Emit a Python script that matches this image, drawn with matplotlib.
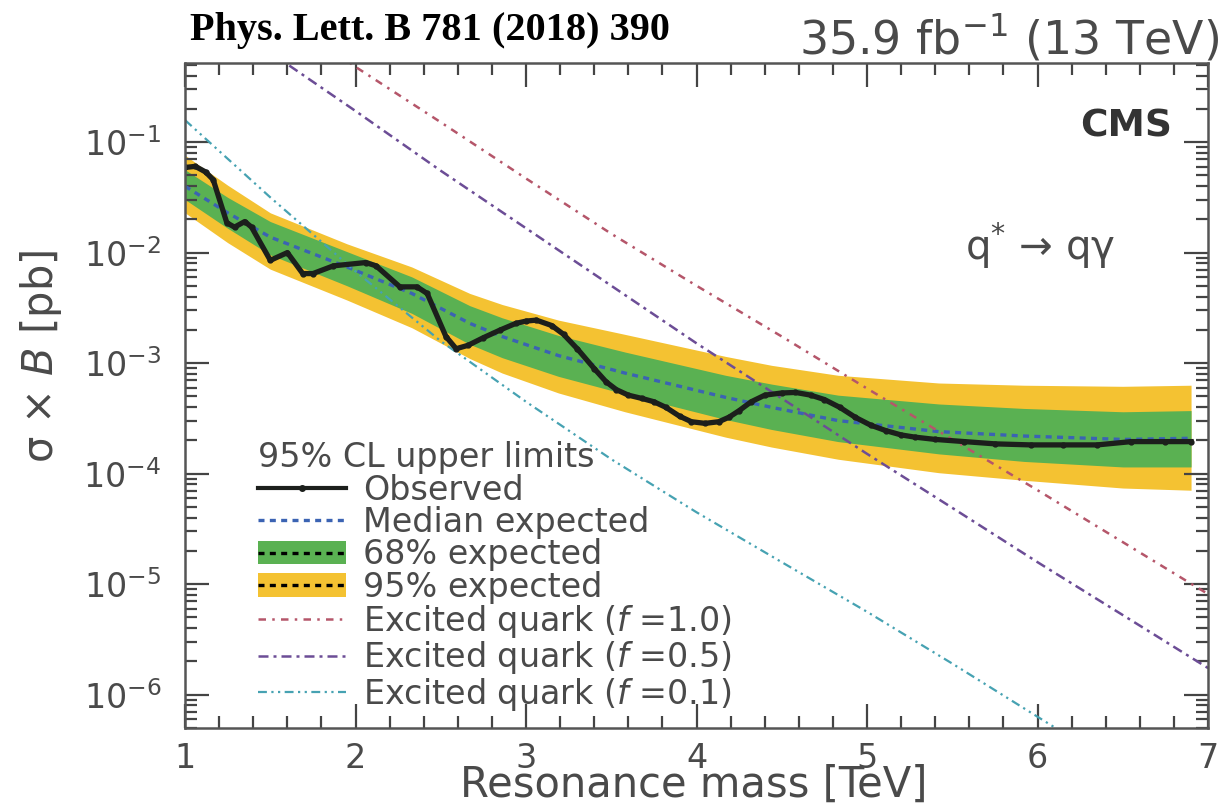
import matplotlib
matplotlib.use("Agg")
import matplotlib.pyplot as plt
from matplotlib.lines import Line2D
from matplotlib.patches import Patch
from matplotlib.ticker import FixedLocator, LogFormatterSciNotation, MultipleLocator

plt.rcParams['font.family'] = ['DejaVu Sans']
plt.rcParams['mathtext.fontset'] = 'dejavusans'

# expected limits [pb]
mass_exp = [1.0, 1.25, 1.5, 1.95, 2.33, 2.67, 2.86, 3.19, 3.58, 4.17, 4.44, 4.83, 5.42, 5.92, 6.5, 6.9]
exp_median = [0.0398, 0.0229, 0.0138, 0.00741, 0.00427, 0.00229, 0.00174, 0.00117,
              8.13e-4, 4.90e-4, 3.98e-4, 3.02e-4, 2.40e-4, 2.19e-4, 2.04e-4, 2.09e-4]
exp_68_hi = [0.0562, 0.0316, 0.0191, 0.0102, 0.00603, 0.00331, 0.00257, 0.00178,
             0.00126, 7.76e-4, 6.46e-4, 5.13e-4, 4.27e-4, 3.89e-4, 3.63e-4, 3.72e-4]
exp_68_lo = [0.0302, 0.0166, 0.00955, 0.00501, 0.00282, 0.00148, 0.00112, 7.59e-4,
             5.25e-4, 3.09e-4, 2.51e-4, 1.95e-4, 1.51e-4, 1.29e-4, 1.15e-4, 1.15e-4]
exp_95_hi = [0.0759, 0.0407, 0.0229, 0.0120, 0.00741, 0.00427, 0.00339, 0.00245,
             0.00182, 0.00115, 9.55e-4, 7.76e-4, 6.61e-4, 6.31e-4, 6.17e-4, 6.31e-4]
exp_95_lo = [0.0229, 0.0123, 0.00708, 0.00372, 0.00209, 0.00110, 8.13e-4, 5.37e-4,
             3.63e-4, 2.14e-4, 1.74e-4, 1.35e-4, 1.02e-4, 8.71e-5, 7.41e-5, 7.08e-5]

# observed limit [pb]
mass_obs = [1.0, 1.06, 1.12, 1.165, 1.245, 1.29, 1.35, 1.39, 1.5, 1.6, 1.69, 1.75, 1.87,
            2.06, 2.12, 2.26, 2.36, 2.42, 2.53, 2.59, 2.66, 2.75, 2.85, 2.94, 3.0, 3.06,
            3.15, 3.22, 3.3, 3.4, 3.47, 3.53, 3.6, 3.68, 3.75, 3.82, 3.9, 3.97, 4.05,
            4.13, 4.19, 4.25, 4.32, 4.4, 4.5, 4.58, 4.67, 4.75, 4.84, 4.93, 5.02, 5.11,
            5.2, 5.28, 5.4, 5.57, 5.75, 5.96, 6.15, 6.35, 6.55, 6.75, 6.9]
obs_limit = [0.0589, 0.0603, 0.0537, 0.0457, 0.0186, 0.0170, 0.0191, 0.0170, 0.00851,
             0.0100, 0.00646, 0.00646, 0.00759, 0.00813, 0.00759, 0.00490, 0.00490,
             0.00427, 0.00174, 0.00135, 0.00145, 0.00170, 0.00200, 0.00229, 0.00240,
             0.00245, 0.00219, 0.00182, 0.00135, 8.91e-4, 6.76e-4, 5.75e-4, 5.13e-4,
             4.79e-4, 4.47e-4, 3.98e-4, 3.31e-4, 2.95e-4, 2.85e-4, 2.95e-4, 3.24e-4,
             3.72e-4, 4.47e-4, 5.13e-4, 5.37e-4, 5.43e-4, 5.13e-4, 4.68e-4, 3.98e-4,
             3.24e-4, 2.75e-4, 2.45e-4, 2.24e-4, 2.14e-4, 2.04e-4, 1.95e-4, 1.86e-4,
             1.82e-4, 1.82e-4, 1.82e-4, 1.95e-4, 1.95e-4, 1.95e-4]

# excited quark cross sections [pb]
mass_f10 = [1.9, 2.0, 2.5, 3.0, 3.5, 4.0, 4.5, 5.0, 5.5, 6.0, 6.5, 7.0]
xsec_f10 = [0.617, 0.479, 0.151, 0.0468, 0.0148, 0.00501, 0.00174, 5.89e-4, 2.04e-4,
            7.08e-5, 2.40e-5, 8.13e-6]
mass_f05 = [1.5, 2.0, 2.5, 3.0, 3.5, 4.0, 4.5, 5.0, 5.5, 6.0, 6.5, 7.0]
xsec_f05 = [0.646, 0.191, 0.0550, 0.0166, 0.00501, 0.00151, 4.79e-4, 1.51e-4, 4.90e-5,
            1.58e-5, 5.25e-6, 1.74e-6]
mass_f01 = [1.0, 1.5, 2.0, 2.5, 3.0, 3.5, 4.0, 4.5, 5.0, 5.5, 6.0, 6.5]
xsec_f01 = [0.158, 0.0316, 0.00676, 0.00158, 4.47e-4, 1.35e-4, 4.47e-5, 1.58e-5, 5.62e-6,
            1.91e-6, 6.31e-7, 2.09e-7]

y_major = [1e-6, 1e-5, 1e-4, 1e-3, 1e-2, 1e-1]

green = '#5ab152'
yellow = '#f4c232'
grey = '#4a4a4a'

fig = plt.figure(figsize=(12.28, 8.05), dpi=100)
ax = fig.add_axes([0.1507, 0.0957, 0.8331, 0.8261])

ax.fill_between(mass_exp, exp_95_lo, exp_95_hi, color=yellow, lw=0)
ax.fill_between(mass_exp, exp_68_lo, exp_68_hi, color=green, lw=0)
ax.plot(mass_exp, exp_median, color='#3b63b3', lw=2.4, ls=(0, (1.8, 1.6)))

l10, = ax.plot(mass_f10, xsec_f10, color='#b5566a', lw=1.8, ls=(0, (3, 2.5, 1, 2.5)))
l05, = ax.plot(mass_f05, xsec_f05, color='#6c4d96', lw=1.8, ls=(0, (4, 2, 1.2, 2)))
l01, = ax.plot(mass_f01, xsec_f01, color='#46a2b2', lw=1.6, ls=(0, (4, 2, 1, 2, 1, 2)))

ax.plot(mass_obs, obs_limit, color='#1c1f1c', lw=3.8, marker='o', ms=3.5)

ax.set_yscale('log')
ax.set_xlim(1, 7)
ax.set_ylim(5e-7, 0.52)

ax.xaxis.set_major_locator(MultipleLocator(1))
ax.xaxis.set_minor_locator(MultipleLocator(0.2))
# only decades inside the plotted range get a label
ax.yaxis.set_major_locator(FixedLocator(y_major))
ax.yaxis.set_minor_locator(FixedLocator([m * d for d in [1e-7] + y_major for m in range(2, 10)]))
ax.yaxis.set_major_formatter(LogFormatterSciNotation())

ax.tick_params(which='both', direction='in', top=True, right=True, colors='#444444',
               width=1.6, labelcolor=grey)
ax.tick_params(which='major', length=17, labelsize=24)
ax.tick_params(which='minor', length=8.5)
ax.tick_params(axis='x', which='major', pad=10)
ax.tick_params(axis='y', which='major', pad=17)
for s in ax.spines.values():
    s.set_color('#555555')
    s.set_linewidth(1.8)

ax.set_xlabel('Resonance mass [TeV]', fontsize=30, color=grey)
ax.xaxis.label.set_va('baseline')
ax.xaxis.set_label_coords(0.497, -0.104)
ax.set_ylabel('σ × $B$ [pb]', fontsize=30, color=grey)
ax.yaxis.set_label_coords(-0.118, 0.558)

band_line = dict(color='black', lw=2.4, ls=(0, (1.8, 1.6)))
handles = [
    Line2D([], [], color='#1c1f1c', lw=3, marker='o', ms=4),
    Line2D([], [], color='#3b63b3', lw=2.4, ls=(0, (1.8, 1.6))),
    (Patch(facecolor=green), Line2D([], [], **band_line)),
    (Patch(facecolor=yellow), Line2D([], [], **band_line)),
    l10, l05, l01,
]
labels = ['Observed', 'Median expected', '68% expected', '95% expected',
          'Excited quark ($f$ =1.0)', 'Excited quark ($f$ =0.5)', 'Excited quark ($f$ =0.1)']
leg = ax.legend(handles, labels, title='95% CL upper limits', alignment='left',
                frameon=False, fontsize=24, title_fontsize=24, handlelength=2.65,
                handletextpad=0.5, labelspacing=-0.02, loc='upper left',
                bbox_to_anchor=(0.071, 0.431), borderpad=0, borderaxespad=0,
                labelcolor=grey)
leg.get_title().set_color(grey)

fig.text(0.155, 0.962, 'Phys. Lett. B 781 (2018) 390', family='Liberation Serif',
         weight='bold', fontsize=29, ha='left', va='center', color='black')
fig.text(0.993, 0.952, '35.9 fb$^{-1}$ (13 TeV)', fontsize=33, ha='right', va='center',
         color=grey)
ax.text(0.965, 0.905, 'CMS', transform=ax.transAxes, fontsize=27, weight='bold',
        ha='right', va='center', color='#333333')
ax.text(0.91, 0.725, 'q$^{*}$ → qγ', transform=ax.transAxes, fontsize=29,
        ha='right', va='center', color=grey)

fig.savefig('out.png', dpi=100)
